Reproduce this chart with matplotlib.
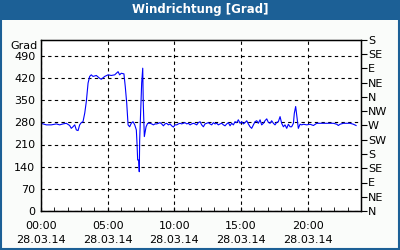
import numpy as np
import matplotlib
matplotlib.use('Agg')
import matplotlib.pyplot as plt
from matplotlib.patches import Rectangle

# Windrichtung (Grad) über den Tag, Stunden seit 00:00
stunden = [0.00, 0.40, 0.77, 1.15, 1.40, 1.65, 1.90, 2.15, 2.27, 2.40, 2.53, 2.65, 2.78, 2.90,
           3.02, 3.15, 3.28, 3.40, 3.53, 3.65, 3.77, 3.90, 4.15, 4.40, 4.52, 4.78, 5.03, 5.27,
           5.53, 5.78, 5.90, 6.02, 6.22, 6.32, 6.43, 6.53, 6.65, 6.77, 6.90, 7.03, 7.15, 7.20,
           7.25, 7.33, 7.37, 7.40, 7.48, 7.55, 7.63, 7.67, 7.75, 7.88, 8.00,
           8.18, 8.30, 8.43, 8.55, 8.68, 8.80, 8.93, 9.05, 9.18, 9.30, 9.43, 9.55, 9.68, 9.80,
           9.93, 10.05, 10.18, 10.30, 10.43, 10.55, 10.68, 10.80, 10.93, 11.05, 11.18, 11.30,
           11.43, 11.55, 11.68, 11.80, 11.93, 12.05, 12.18, 12.30, 12.43, 12.55, 12.68, 12.80,
           12.93, 13.05, 13.18, 13.30, 13.43, 13.55, 13.68, 13.80, 13.93, 14.05, 14.18, 14.30,
           14.43, 14.55, 14.68, 14.80, 14.93, 15.05, 15.18, 15.30, 15.43, 15.55,
           15.68, 15.80, 15.93, 16.05, 16.18, 16.30, 16.43, 16.55, 16.68, 16.80, 16.93, 17.05,
           17.18, 17.30, 17.43, 17.55, 17.68, 17.80, 17.93, 18.05, 18.18, 18.30, 18.43, 18.55,
           18.68, 18.80, 18.93, 19.00, 19.10, 19.18, 19.30, 19.43, 19.55, 19.68, 19.93, 20.18,
           20.43, 20.68, 20.93, 21.18, 21.43, 21.68, 21.93, 22.18, 22.30, 22.43, 22.68, 22.93,
           23.18, 23.43, 23.63]
grad = [277, 272, 272, 275, 272, 275, 277, 270, 261, 266, 272, 256, 254, 272,
        279, 282, 309, 346, 404, 425, 430, 425, 428, 419, 416, 425, 430, 428,
        430, 440, 430, 435, 433, 393, 340, 272, 266, 277, 282, 272, 256, 214,
        161, 161, 124, 224, 319, 404, 451, 340, 235, 266, 277,
        277, 275, 272, 275, 275, 277, 279, 275, 269, 275, 277, 272, 275, 269,
        265, 272, 272, 275, 277, 275, 277, 279, 275, 277, 272, 275,
        277, 275, 272, 279, 282, 272, 266, 275, 277, 279, 275, 272,
        279, 275, 277, 272, 275, 277, 272, 269, 275, 279, 269, 277,
        272, 282, 279, 288, 277, 282, 275, 279, 285, 275,
        266, 261, 272, 282, 285, 277, 288, 272, 277, 285, 291, 280,
        277, 285, 277, 272, 280, 282, 298, 277, 266, 272, 261, 274,
        266, 266, 277, 309, 330, 303, 261, 274, 272, 274, 272, 274,
        270, 277, 277, 277, 277, 277, 277, 274, 270, 274, 277, 277,
        277, 274, 270]

y_ticks = [0, 70, 140, 210, 280, 350, 420, 490]
richtungen = ['N', 'NE', 'E', 'SE', 'S', 'SW', 'W', 'NW', 'N', 'NE', 'E', 'SE', 'S']
x_ticks = [0, 5, 10, 15, 20]
x_labels = ['00:00\n28.03.14', '05:00\n28.03.14', '10:00\n28.03.14',
            '15:00\n28.03.14', '20:00\n28.03.14']

blau = '#1c6096'
plt.rcParams['font.family'] = 'DejaVu Sans'

fig = plt.figure(figsize=(4, 2.5), dpi=100, facecolor='#fafcfa')
# Titelleiste und Rahmen
fig.patches.append(Rectangle((0, 1 - 20 / 250), 1, 20 / 250, transform=fig.transFigure,
                             facecolor=blau, edgecolor='none', zorder=0))
fig.patches.append(Rectangle((0.002, 0.004), 0.996, 0.99, transform=fig.transFigure,
                             facecolor='none', edgecolor=blau, linewidth=1.5, zorder=0))
fig.text(0.5, 1 - 10 / 250, 'Windrichtung [Grad]', color='white', fontsize=8.5,
         fontweight='bold', ha='center', va='center')

ax = fig.add_axes([41 / 400, 1 - 211 / 250, 320 / 400, 171 / 250])
ax.set_facecolor('white')
ax.plot(stunden, grad, color='#0000ff', linewidth=0.8)

ax.set_xlim(0, 24)
ax.set_ylim(0, 540)
ax.set_yticks(y_ticks)
ax.set_yticklabels([str(v) for v in y_ticks])
ax.set_xticks(x_ticks)
ax.set_xticklabels(x_labels)
ax.set_xticks(np.arange(0, 25, 1), minor=True)
ax.tick_params(axis='y', length=0, pad=4, labelsize=8)
ax.tick_params(axis='x', which='both', direction='in', length=3, pad=7, labelsize=8,
               top=False)
ax.grid(True, color='black', linestyle=(0, (3, 3)), linewidth=0.8)
for s in ax.spines.values():
    s.set_linewidth(1)
ax.text(-0.01, 0.965, 'Grad', transform=ax.transAxes, ha='right', va='center', fontsize=8)
for lab in ax.get_xticklabels():
    lab.set_linespacing(1.55)

ax2 = ax.twinx()
ax2.set_ylim(0, 540)
ax2.set_yticks(np.arange(0, 541, 45))
ax2.set_yticklabels(richtungen)
ax2.tick_params(axis='y', direction='out', length=4, pad=1, labelsize=8)

fig.savefig('out.png', dpi=100, facecolor=fig.get_facecolor())
